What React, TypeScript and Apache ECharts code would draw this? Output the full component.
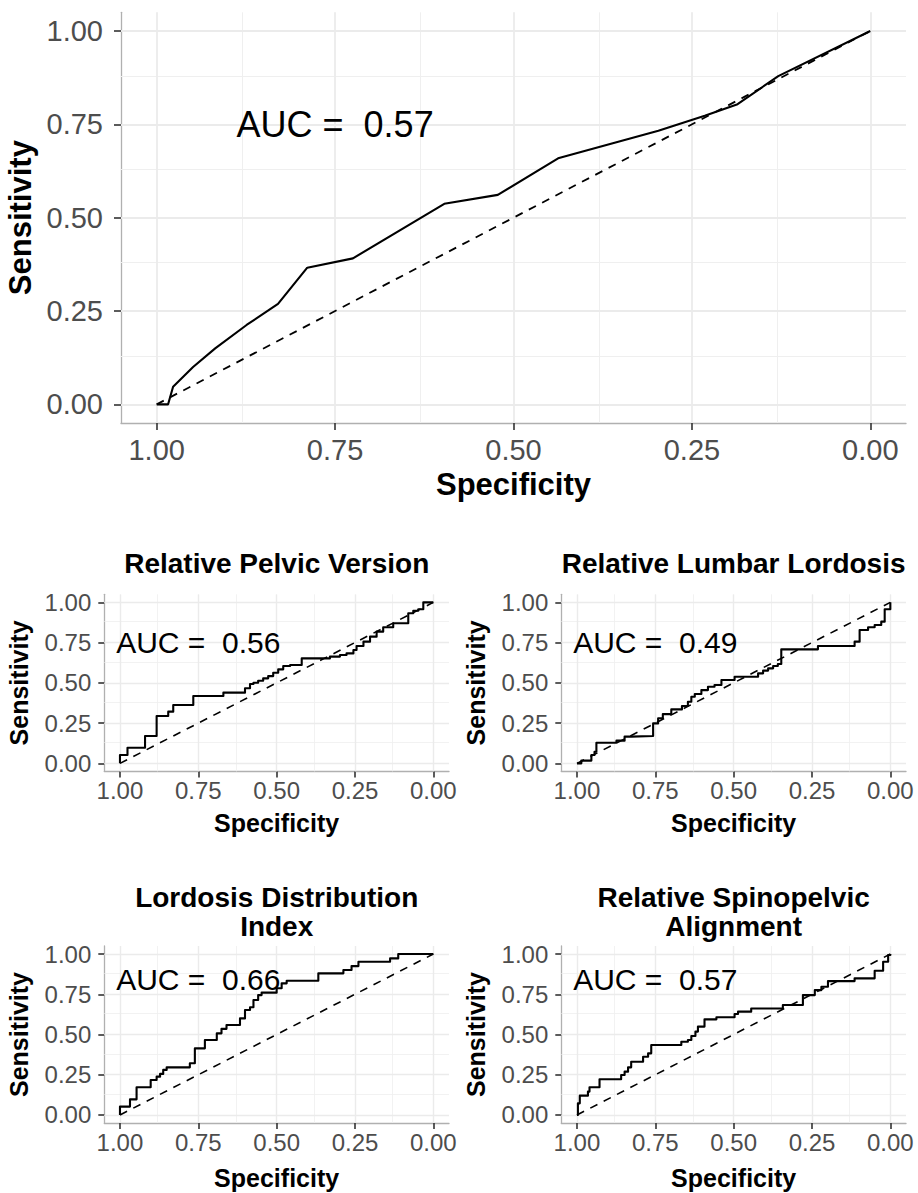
import React, { useEffect, useRef } from "react";
import * as echarts from "echarts";

// ---------- data ----------
const tickValues = [0, 0.25, 0.5, 0.75, 1];
const minorValues = [0.125, 0.375, 0.625, 0.875];
const chanceSpec = [1, 0];
const chanceSens = [0, 1];

const plotTitles = [
  "",
  "Relative Pelvic Version",
  "Relative Lumbar Lordosis",
  "Lordosis Distribution\nIndex",
  "Relative Spinopelvic\nAlignment",
];
const aucValues = [0.57, 0.56, 0.49, 0.66, 0.57];
const aucSpec = [0.75, 0.75, 0.75, 0.75, 0.75];
const aucSens = [0.75, 0.75, 0.75, 0.84, 0.84];

// main ROC (smooth-looking path)
const mainSpec = [1, 0.984, 0.977, 0.949, 0.918, 0.874, 0.83, 0.789, 0.725, 0.597, 0.522, 0.4375, 0.297, 0.232, 0.186, 0.129, 0];
const mainSens = [0, 0, 0.047, 0.1, 0.15, 0.2125, 0.269, 0.366, 0.391, 0.537, 0.561, 0.659, 0.733, 0.773, 0.804, 0.879, 1];

// Relative Pelvic Version (step points)
const rpvSpec = [1, 1, 0.976, 0.92, 0.883, 0.846, 0.83, 0.766, 0.67, 0.601, 0.585, 0.574, 0.559, 0.543, 0.527, 0.511, 0.495, 0.479, 0.457, 0.42, 0.33, 0.298, 0.277, 0.255, 0.245, 0.223, 0.202, 0.181, 0.16, 0.128, 0.08, 0.064, 0.048, 0.032, 0];
const rpvSens = [0, 0.052, 0.097, 0.17, 0.294, 0.321, 0.362, 0.418, 0.439, 0.466, 0.493, 0.501, 0.513, 0.528, 0.542, 0.563, 0.584, 0.605, 0.611, 0.652, 0.663, 0.673, 0.683, 0.704, 0.729, 0.756, 0.787, 0.818, 0.845, 0.87, 0.932, 0.948, 0.957, 1, 1];

// Relative Lumbar Lordosis
const rllSpec = [1, 0.986, 0.954, 0.944, 0.938, 0.874, 0.848, 0.827, 0.757, 0.741, 0.726, 0.699, 0.665, 0.646, 0.635, 0.624, 0.603, 0.582, 0.561, 0.539, 0.497, 0.422, 0.406, 0.39, 0.374, 0.359, 0.348, 0.231, 0.114, 0.098, 0.071, 0.05, 0.029, 0.018, 0];
const rllSens = [0, 0.017, 0.052, 0.072, 0.128, 0.141, 0.166, 0.17, 0.248, 0.28, 0.306, 0.335, 0.356, 0.383, 0.414, 0.431, 0.455, 0.476, 0.487, 0.518, 0.538, 0.559, 0.576, 0.59, 0.605, 0.617, 0.708, 0.729, 0.756, 0.828, 0.845, 0.859, 0.88, 0.957, 1];

// Lordosis Distribution Index
const ldiSpec = [1, 1, 0.968, 0.947, 0.902, 0.883, 0.872, 0.862, 0.851, 0.777, 0.761, 0.729, 0.691, 0.676, 0.66, 0.617, 0.601, 0.585, 0.574, 0.559, 0.548, 0.5, 0.484, 0.468, 0.367, 0.287, 0.261, 0.239, 0.138, 0.112, 0];
const ldiSens = [0, 0.052, 0.097, 0.172, 0.217, 0.238, 0.255, 0.28, 0.296, 0.321, 0.414, 0.466, 0.507, 0.535, 0.559, 0.6, 0.652, 0.669, 0.714, 0.745, 0.76, 0.787, 0.818, 0.834, 0.88, 0.901, 0.925, 0.952, 0.973, 1, 1];

// Relative Spinopelvic Alignment
const rsaSpec = [1, 0.997, 0.991, 0.965, 0.96, 0.928, 0.859, 0.848, 0.837, 0.827, 0.789, 0.773, 0.763, 0.667, 0.646, 0.635, 0.622, 0.614, 0.593, 0.555, 0.497, 0.486, 0.444, 0.343, 0.279, 0.241, 0.22, 0.199, 0.114, 0.05, 0.023, 0.007, 0];
const rsaSens = [0, 0.072, 0.12, 0.145, 0.172, 0.222, 0.248, 0.269, 0.296, 0.331, 0.362, 0.383, 0.435, 0.455, 0.466, 0.491, 0.518, 0.549, 0.594, 0.607, 0.627, 0.642, 0.662, 0.683, 0.745, 0.776, 0.797, 0.832, 0.849, 0.896, 0.952, 0.994, 1];

const curveSpecs = [mainSpec, rpvSpec, rllSpec, ldiSpec, rsaSpec];
const curveSens = [mainSens, rpvSens, rllSens, ldiSens, rsaSens];

// ---------- layout / style ----------
const FAM = "'Liberation Sans', Arial, Helvetica, sans-serif";

const big = {
  tick: 29, axisTitle: 31, auc: 36, tickLen: 7, xMargin: 27, yMargin: 18,
  xNameGap: 61.5, yNameGap: 98.5, lineW: 2.1, dashW: 1.8, gridW: 1.8, minorW: 1, step: false,
};
const small = {
  tick: 24, axisTitle: 25, auc: 30, tickLen: 6, xMargin: 19, yMargin: 13,
  xNameGap: 51.5, yNameGap: 85, lineW: 2.1, dashW: 1.6, gridW: 1.4, minorW: 0.8, step: true,
};

const panels = [
  { ...big, left: 121, top: 12.3, width: 785, height: 410.7, titleX: 0, titleY: 0 },
  { ...small, left: 104.3, top: 594.3, width: 344.7, height: 177.1, titleX: 276.7, titleY: 563 },
  { ...small, left: 561.3, top: 594.3, width: 344.7, height: 177.1, titleX: 733.6, titleY: 563 },
  { ...small, left: 104.3, top: 946, width: 344.7, height: 177, titleX: 276.7, titleY: 912.4, xNameGap: 55 },
  { ...small, left: 561.3, top: 946, width: 344.7, height: 177, titleX: 733.6, titleY: 912.4, xNameGap: 55 },
];

const zip = (xs: number[], ys: number[]) => xs.map((x, i) => [x, ys[i]]);

function buildOption() {
  const grid: any[] = [];
  const xAxis: any[] = [];
  const yAxis: any[] = [];
  const series: any[] = [];
  const graphic: any[] = [];

  panels.forEach((p, i) => {
    grid.push({ left: p.left, top: p.top, width: p.width, height: p.height, containLabel: false, outerBoundsMode: "none" });

    const common = (name: string, margin: number, gap: number, isX: boolean) => ({
      type: "value",
      gridIndex: i,
      min: -0.05,
      max: 1.05,
      inverse: isX,
      name,
      nameLocation: "middle",
      nameGap: gap,
      nameTextStyle: {
        fontSize: p.axisTitle, fontWeight: "bold", color: "#000000", fontFamily: FAM, verticalAlign: "middle",
      },
      axisLine: { show: true, onZero: false, lineStyle: { color: "#B0B0B0", width: 1.3 } },
      axisTick: { show: true, customValues: tickValues, length: p.tickLen, inside: false, lineStyle: { color: "#333333", width: 1.6 } },
      axisLabel: {
        show: true,
        customValues: tickValues,
        formatter: (v: number) => Number(v).toFixed(2),
        margin,
        fontSize: p.tick,
        color: "#4D4D4D",
        fontFamily: FAM,
        verticalAlign: "middle",
      },
      splitLine: { show: false },
      minorSplitLine: { show: false },
    });

    xAxis.push(common("Specificity", p.xMargin, p.xNameGap, true));
    yAxis.push(common("Sensitivity", p.yMargin, p.yNameGap, false));

    const gridItems = [
      ...minorValues.map((v) => ({ xAxis: v, lineStyle: { color: "#EFEFEF", width: p.minorW, type: "solid" } })),
      ...minorValues.map((v) => ({ yAxis: v, lineStyle: { color: "#EFEFEF", width: p.minorW, type: "solid" } })),
      ...tickValues.map((v) => ({ xAxis: v, lineStyle: { color: "#EBEBEB", width: p.gridW, type: "solid" } })),
      ...tickValues.map((v) => ({ yAxis: v, lineStyle: { color: "#EBEBEB", width: p.gridW, type: "solid" } })),
    ];

    // chance diagonal (+ panel grid lines as markLines)
    series.push({
      type: "line",
      xAxisIndex: i,
      yAxisIndex: i,
      data: zip(chanceSpec, chanceSens),
      symbol: "none",
      silent: true,
      z: 2,
      lineStyle: { color: "#000000", width: p.dashW, type: [8, 7] },
      markLine: {
        silent: true,
        z: 1,
        symbol: ["none", "none"],
        label: { show: false },
        emphasis: { disabled: true },
        animation: false,
        data: gridItems,
      },
    });

    // ROC curve
    series.push({
      type: "line",
      xAxisIndex: i,
      yAxisIndex: i,
      data: zip(curveSpecs[i], curveSens[i]),
      step: p.step ? "end" : false,
      symbol: "none",
      silent: true,
      z: 3,
      lineStyle: { color: "#000000", width: p.lineW, join: "round" },
    });

    // AUC annotation
    series.push({
      type: "scatter",
      xAxisIndex: i,
      yAxisIndex: i,
      data: [[aucSpec[i], aucSens[i]]],
      symbolSize: 1,
      silent: true,
      z: 4,
      itemStyle: { color: "rgba(255,255,255,0)" },
      label: {
        show: true,
        position: "inside",
        formatter: "AUC =  " + aucValues[i].toFixed(2),
        fontSize: p.auc,
        color: "#000000",
        opacity: 1,
        textBorderWidth: 0,
        textBorderColor: "transparent",
        fontFamily: FAM,
      },
    });

    if (plotTitles[i]) {
      graphic.push({
        type: "text",
        x: p.titleX,
        y: p.titleY,
        silent: true,
        style: {
          text: plotTitles[i],
          fontSize: 28,
          fontWeight: "bold",
          fontFamily: FAM,
          fill: "#000000",
          align: "center",
          verticalAlign: "middle",
          lineHeight: 29,
        },
      });
    }
  });

  return {
    animation: false,
    backgroundColor: "#FFFFFF",
    textStyle: { fontFamily: FAM },
    grid,
    xAxis,
    yAxis,
    series,
    graphic,
  };
}

export default function App() {
  const ref = useRef<HTMLDivElement>(null);
  useEffect(() => {
    document.body.style.margin = "0";
    if (!ref.current) return;
    const chart = echarts.init(ref.current, null, { renderer: "svg" });
    chart.setOption(buildOption() as any);
    return () => chart.dispose();
  }, []);
  return <div ref={ref} style={{ width: 918, height: 1193, background: "#FFFFFF" }} />;
}
